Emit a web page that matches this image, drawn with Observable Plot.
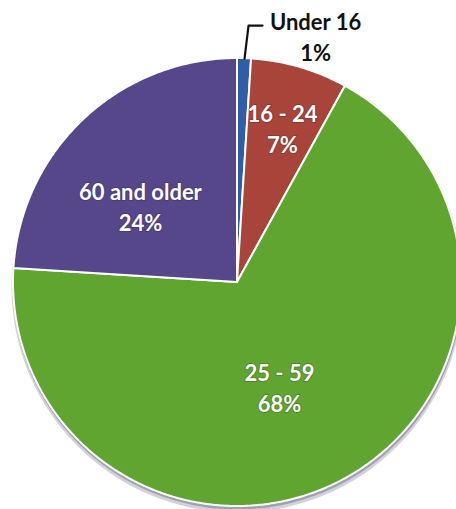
<!DOCTYPE html>
<html>
<head>
<meta charset="utf-8">
<script src="https://cdn.jsdelivr.net/npm/d3@7"></script>
<script src="https://cdn.jsdelivr.net/npm/@observablehq/plot@0.6"></script>
<style>
  html, body { margin: 0; padding: 0; background: #fff; }
</style>
</head>
<body>
<div id="chart"></div>
<script>
// Data
const categories = ["Under 16", "16 - 24", "25 - 59", "60 and older"];
const percents = [1, 7, 68, 24];
const colors = ["#2f5da8", "#a9443b", "#5fa52f", "#55478a"];

// Layout settings (pixels)
const W = 456, H = 509;
const CX = 237, CY = 282, R = 224;

// Build slice polygons in unit (radius = 1) coordinates from the data
const total = d3.sum(percents);
let start = 0;
const slices = categories.map((name, i) => {
  const a0 = start / total * 2 * Math.PI;
  const a1 = (start + percents[i]) / total * 2 * Math.PI;
  start += percents[i];
  return {name, pct: percents[i], color: colors[i], a0, a1, mid: (a0 + a1) / 2};
});
const slicePts = [];
slices.forEach(s => {
  const n = Math.max(2, Math.ceil((s.a1 - s.a0) / (Math.PI / 360)));
  slicePts.push({name: s.name, x: 0, y: 0});
  for (let k = 0; k <= n; k++) {
    const a = s.a0 + (s.a1 - s.a0) * k / n;
    slicePts.push({name: s.name, x: Math.sin(a), y: Math.cos(a)});
  }
  slicePts.push({name: s.name, x: 0, y: 0});
});

// Inside-label placement (angle offset in degrees, radial fraction)
const labelPlacement = {
  "16 - 24": {da: 0, r: 0.72},
  "25 - 59": {da: 6.8, r: 0.50},
  "60 and older": {da: -8.4, r: 0.553}
};
const inside = slices.filter(s => labelPlacement[s.name]).map(s => {
  const p = labelPlacement[s.name];
  const a = s.mid + p.da * Math.PI / 180;
  return {x: p.r * Math.sin(a), y: p.r * Math.cos(a), text: `${s.name}\n${s.pct}%`};
});

// Outside label for the smallest slice, with a leader line
const small = slices[0];
const edge = {x: Math.sin(small.mid), y: Math.cos(small.mid)};
const px = 1 / R;
const leader = [
  edge,
  {x: edge.x + 4 * px, y: edge.y + 33 * px},
  {x: edge.x + 18 * px, y: edge.y + 33 * px}
];

const chart = Plot.plot({
  width: W,
  height: H,
  margin: 0,
  x: {domain: [-CX / R, (W - CX) / R], axis: null},
  y: {domain: [-(H - CY) / R, CY / R], axis: null},
  color: {domain: categories, range: colors},
  style: {background: "white"},
  marks: [
    Plot.dot([{x: 0, y: 0}], {x: "x", y: "y", r: R + 2, dy: 4, fill: "#9a9cac", fillOpacity: 0.45, stroke: "none"}),
    Plot.dot([{x: 0, y: 0}], {x: "x", y: "y", r: R + 1, dy: 2, fill: "#7e8092", fillOpacity: 0.6, stroke: "none"}),
    Plot.area(slicePts, {
      x1: "x", y1: "y", x2: 0, y2: 0, z: "name", fill: "name",
      stroke: "white", strokeWidth: 2, strokeLinejoin: "round"
    }),
    Plot.line(leader, {x: "x", y: "y", stroke: "#111", strokeWidth: 2.2}),
    Plot.text(inside, {
      x: "x", y: "y", text: "text", fill: "white", fontSize: 22,
      fontWeight: "bold", fontFamily: "Lato", lineHeight: 1.42,
      stroke: "rgba(40,30,50,0.25)", strokeWidth: 2, paintOrder: "stroke"
    }),
    Plot.text([edge], {
      x: "x", y: "y", text: () => `${small.name}\n${small.pct}%`,
      dx: 71, dy: -23, fill: "#111", fontSize: 22, fontWeight: "bold",
      fontFamily: "Lato", lineHeight: 1.42
    })
  ]
});
document.getElementById("chart").appendChild(chart);
</script>
</body>
</html>
